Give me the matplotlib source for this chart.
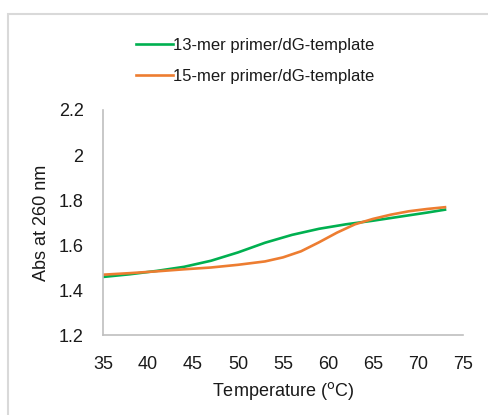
import matplotlib
matplotlib.use("Agg")
import matplotlib.pyplot as plt
from matplotlib.patches import Rectangle

plt.rcParams['font.family'] = ['Liberation Sans', 'DejaVu Sans']

# melting curves
temp_13 = [35, 38, 41, 44, 47, 50, 53, 56, 59, 62, 65, 68, 71, 73]
abs_13 = [1.458, 1.470, 1.485, 1.503, 1.530, 1.567, 1.610, 1.645, 1.672, 1.692, 1.708, 1.726, 1.744, 1.757]

temp_15 = [35, 38, 41, 44, 47, 50, 53, 55, 57, 59, 61, 63, 65, 67, 69, 71, 73]
abs_15 = [1.468, 1.475, 1.483, 1.492, 1.500, 1.512, 1.527, 1.545, 1.572, 1.612, 1.655, 1.692, 1.716, 1.735, 1.750, 1.760, 1.768]

labels = ["13-mer primer/dG-template", "15-mer primer/dG-template"]
xticks = [35, 40, 45, 50, 55, 60, 65, 70, 75]
yticks = [1.2, 1.4, 1.6, 1.8, 2.0, 2.2]
ytick_labels = ["1.2", "1.4", "1.6", "1.8", "2", "2.2"]

fig = plt.figure(figsize=(4.89, 4.15), dpi=100)
# light grey chart-area border (runs off right/bottom edge)
fig.patches.append(Rectangle((8/489, -0.1), 1.2, (415-14)/415 + 0.1, transform=fig.transFigure,
                             fill=False, edgecolor='#d9d9d9', linewidth=1.5))

ax = fig.add_axes([103/489, 80/415, 360/489, 225/415])
l1, = ax.plot(temp_13, abs_13, color='#00b050', lw=1.9)
l2, = ax.plot(temp_15, abs_15, color='#ed7d31', lw=1.9)

ax.set_xlim(35, 75)
ax.set_ylim(1.2, 2.2)
ax.set_xticks(xticks)
ax.set_yticks(yticks)
ax.set_yticklabels(ytick_labels)
ax.tick_params(length=0, labelsize=13, colors='#1a1a1a')
ax.tick_params(axis='x', pad=15)
ax.tick_params(axis='y', pad=14)
for s in ['top', 'right']:
    ax.spines[s].set_visible(False)
for s in ['left', 'bottom']:
    ax.spines[s].set_color('#bfbfbf')
    ax.spines[s].set_linewidth(1.2)

ax.set_xlabel("Temperature ($^{\\rm o}$C)", fontsize=13, color='#1a1a1a', labelpad=5)
ax.set_ylabel("Abs at 260 nm", fontsize=13, color='#1a1a1a', labelpad=6)

fig.legend([l1, l2], labels, loc='upper left', bbox_to_anchor=(121/489, 1 - 23/415),
           frameon=False, fontsize=12, handlelength=2.2, handletextpad=0.0,
           labelspacing=0.95, labelcolor='#1a1a1a')

fig.savefig("out.png", dpi=100)
